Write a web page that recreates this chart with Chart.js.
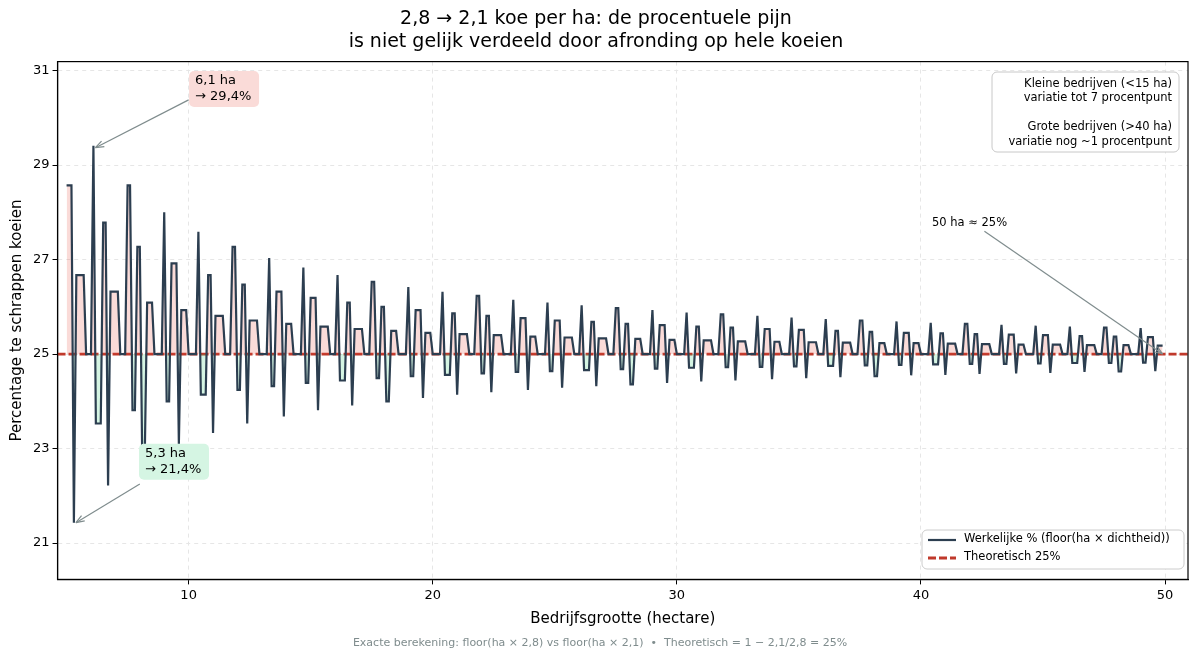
<!DOCTYPE html>
<html>
<head>
<meta charset="utf-8">
<script src="https://cdn.jsdelivr.net/npm/chart.js@4.4.1/dist/chart.umd.min.js"></script>
<style>
  html, body { margin: 0; padding: 0; background: #fff; }
  #wrap { width: 1200px; height: 658px; }
</style>
</head>
<body>
<div id="wrap"><canvas id="c" width="1200" height="658"></canvas></div>
<script>
// Percentage te schrappen koeien, per 0,1 ha van 5,0 tot 49,9 ha
const pct5to10 = [28.57,28.57,28.57,21.43,26.67,26.67,26.67,26.67,25,25,25,29.41,23.53,23.53,23.53,27.78,27.78,22.22,26.32,26.32,26.32,26.32,25,25,25,28.57,28.57,23.81,23.81,27.27,27.27,22.73,22.73,26.09,26.09,26.09,25,25,25,25,28,24,24,26.92,26.92,26.92,23.08,25.93,25.93,25.93];
const pct10to20 = [25,25,25,25,27.59,24.14,24.14,24.14,26.67,26.67,23.33,25.81,25.81,25.81,25.81,25,25,25,27.27,27.27,24.24,24.24,26.47,26.47,23.53,25.71,25.71,25.71,25.71,25,25,25,25,27.03,24.32,24.32,26.32,26.32,26.32,23.68,25.64,25.64,25.64,25,25,25,25,26.83,24.39,24.39,26.19,26.19,26.19,23.81,25.58,25.58,25.58,25.58,25,25,25,26.67,24.44,24.44,24.44,26.09,26.09,23.91,25.53,25.53,25.53,25.53,25,25,25,26.53,26.53,24.49,24.49,26,26,24,24,25.49,25.49,25.49,25,25,25,25,26.42,24.53,24.53,25.93,25.93,25.93,24.07,25.45,25.45,25.45];
const pct20to30 = [25,25,25,25,26.32,24.56,24.56,24.56,25.86,25.86,24.14,25.42,25.42,25.42,25.42,25,25,25,26.23,26.23,24.59,24.59,25.81,25.81,24.19,25.40,25.40,25.40,25.40,25,25,25,25,26.15,24.62,24.62,25.76,25.76,25.76,24.24,25.37,25.37,25.37,25,25,25,25,26.09,24.64,24.64,25.71,25.71,25.71,24.29,25.35,25.35,25.35,25.35,25,25,25,26.03,24.66,24.66,24.66,25.68,25.68,24.32,25.33,25.33,25.33,25.33,25,25,25,25.97,25.97,24.68,24.68,25.64,25.64,24.36,24.36,25.32,25.32,25.32,25,25,25,25,25.93,24.69,24.69,25.61,25.61,25.61,24.39,25.30,25.30,25.30];
const pct30to40 = [25,25,25,25,25.88,24.71,24.71,24.71,25.58,25.58,24.42,25.29,25.29,25.29,25.29,25,25,25,25.84,25.84,24.72,24.72,25.56,25.56,24.44,25.27,25.27,25.27,25.27,25,25,25,25,25.81,24.73,24.73,25.53,25.53,25.53,24.47,25.26,25.26,25.26,25,25,25,25,25.77,24.74,24.74,25.51,25.51,25.51,24.49,25.25,25.25,25.25,25.25,25,25,25,25.74,24.75,24.75,24.75,25.49,25.49,24.51,25.24,25.24,25.24,25.24,25,25,25,25.71,25.71,24.76,24.76,25.47,25.47,24.53,24.53,25.23,25.23,25.23,25,25,25,25,25.69,24.77,24.77,25.45,25.45,25.45,24.55,25.23,25.23,25.23];
const pct40to50 = [25,25,25,25,25.66,24.78,24.78,24.78,25.44,25.44,24.56,25.22,25.22,25.22,25.22,25,25,25,25.64,25.64,24.79,24.79,25.42,25.42,24.58,25.21,25.21,25.21,25.21,25,25,25,25,25.62,24.79,24.79,25.41,25.41,25.41,24.59,25.20,25.20,25.20,25,25,25,25,25.60,24.80,24.80,25.40,25.40,25.40,24.60,25.20,25.20,25.20,25.20,25,25,25,25.58,24.81,24.81,24.81,25.38,25.38,24.62,25.19,25.19,25.19,25.19,25,25,25,25.56,25.56,24.81,24.81,25.37,25.37,24.63,24.63,25.19,25.19,25.19,25,25,25,25,25.55,24.82,24.82,25.36,25.36,25.36,24.64,25.18,25.18,25.18];
const theoretical = 25;
const xTicks = [10, 20, 30, 40, 50];
const yTicks = [21, 23, 25, 27, 29, 31];

const pct = [...pct5to10, ...pct10to20, ...pct20to30, ...pct30to40, ...pct40to50];
const points = pct.map((v, i) => ({ x: 5 + i / 10, y: v }));

const X_MIN = 4.63, X_MAX = 50.94, Y_MIN = 20.23, Y_MAX = 31.19;
const FONT = '"DejaVu Sans", sans-serif';

// pijl + tekst + legenda zelf tekenen
const extras = {
  id: 'extras',
  afterDraw(chart) {
    const { ctx, scales: { x, y }, chartArea: ca } = chart;
    const px = v => x.getPixelForValue(v), py = v => y.getPixelForValue(v);

    const arrow = (x1, y1, x2, y2) => {
      ctx.save();
      ctx.strokeStyle = '#7f8c8d'; ctx.fillStyle = '#7f8c8d'; ctx.lineWidth = 1.2;
      ctx.beginPath(); ctx.moveTo(x1, y1); ctx.lineTo(x2, y2); ctx.stroke();
      const a = Math.atan2(y2 - y1, x2 - x1), L = 9;
      ctx.beginPath();
      ctx.moveTo(x2, y2);
      ctx.lineTo(x2 - L * Math.cos(a - 0.35), y2 - L * Math.sin(a - 0.35));
      ctx.moveTo(x2, y2);
      ctx.lineTo(x2 - L * Math.cos(a + 0.35), y2 - L * Math.sin(a + 0.35));
      ctx.stroke();
      ctx.restore();
    };
    const box = (bx, by, w, h, fill, stroke) => {
      ctx.save();
      ctx.beginPath(); ctx.roundRect(bx, by, w, h, 5);
      ctx.fillStyle = fill; ctx.fill();
      if (stroke) { ctx.strokeStyle = stroke; ctx.lineWidth = 1; ctx.stroke(); }
      ctx.restore();
    };
    const lines = (arr, tx, ty, lh, align, size, color) => {
      ctx.save();
      ctx.font = `${size}px ${FONT}`; ctx.fillStyle = color || '#000';
      ctx.textAlign = align; ctx.textBaseline = 'top';
      arr.forEach((t, i) => ctx.fillText(t, tx, ty + i * lh));
      ctx.restore();
    };

    // 6,1 ha
    arrow(px(10), py(30.38), px(6.1) + 2, py(29.41) + 2);
    box(px(10.1) - 2, py(30.99), 70, 36, '#fadbd8');
    lines(['6,1 ha', '→ 29,4%'], px(10.1) + 4, py(30.99) + 3, 16, 'left', 13);

    // 5,3 ha
    arrow(px(8.0), py(22.25), px(5.3) + 2, py(21.43));
    box(px(8.05) - 2, py(23.1), 70, 36, '#d5f5e3');
    lines(['5,3 ha', '→ 21,4%'], px(8.05) + 4, py(23.1) + 3, 16, 'left', 13);

    // 50 ha
    lines(['50 ha ≈ 25%'], px(40.45), py(27.9), 15, 'left', 11.5);
    arrow(px(42.6), py(27.6), px(49.9), py(25.0));

    // tekstvak rechtsboven
    box(992, 72, 187, 80, '#fff', '#c8c8c8');
    lines(['Kleine bedrijven (<15 ha)', 'variatie tot 7 procentpunt', '', 'Grote bedrijven (>40 ha)', 'variatie nog ~1 procentpunt'],
      1172, 78, 14.5, 'right', 11.5);

    // legenda
    box(922, 530, 262, 39, '#fff', '#cccccc');
    ctx.save();
    ctx.lineWidth = 2.2; ctx.strokeStyle = '#2c3e50';
    ctx.beginPath(); ctx.moveTo(928, 540); ctx.lineTo(956, 540); ctx.stroke();
    ctx.lineWidth = 2.8; ctx.strokeStyle = '#c0392b'; ctx.setLineDash([8, 3]);
    ctx.beginPath(); ctx.moveTo(928, 558); ctx.lineTo(956, 558); ctx.stroke();
    ctx.restore();
    lines(['Werkelijke % (floor(ha × dichtheid))', 'Theoretisch 25%'], 964, 533, 18, 'left', 11.5);

    // voetnoot
    ctx.save();
    ctx.font = `11px ${FONT}`; ctx.fillStyle = '#7f8c8d'; ctx.textAlign = 'center';
    ctx.fillText('Exacte berekening: floor(ha × 2,8) vs floor(ha × 2,1)  •  Theoretisch = 1 − 2,1/2,8 = 25%', 600, 646);
    ctx.restore();
  }
};

new Chart(document.getElementById('c'), {
  type: 'line',
  data: {
    datasets: [{
      label: 'Werkelijke % (floor(ha × dichtheid))',
      data: points,
      borderColor: '#2c3e50',
      borderWidth: 2.2,
      pointRadius: 0,
      tension: 0,
      fill: { target: { value: theoretical }, above: 'rgba(231,76,60,0.2)', below: 'rgba(46,204,113,0.2)' }
    }, {
      label: 'Theoretisch 25%',
      data: [{ x: X_MIN, y: theoretical }, { x: X_MAX, y: theoretical }],
      borderColor: '#c0392b',
      borderWidth: 2.8,
      borderDash: [8, 3],
      pointRadius: 0,
      fill: false
    }]
  },
  options: {
    responsive: false,
    animation: false,
    layout: { padding: { left: 4, right: 12, top: 0, bottom: 26 } },
    plugins: {
      legend: { display: false },
      tooltip: { enabled: false },
      title: {
        display: true,
        text: ['2,8 → 2,1 koe per ha: de procentuele pijn', 'is niet gelijk verdeeld door afronding op hele koeien'],
        color: '#000',
        font: { family: FONT, size: 19, weight: 'normal' },
        padding: { top: 8, bottom: 8 },
        lineHeight: 1.25
      }
    },
    scales: {
      x: {
        type: 'linear', min: X_MIN, max: X_MAX,
        afterBuildTicks: ax => { ax.ticks = xTicks.map(v => ({ value: v })); },
        ticks: { color: '#000', font: { family: FONT, size: 13 }, callback: v => v },
        grid: { color: '#e6e6e6', borderDash: [4, 4], tickColor: '#000', tickLength: 5 },
        border: { color: '#000', width: 1.2, dash: [4, 4] },
        title: { display: true, text: 'Bedrijfsgrootte (hectare)', color: '#000', font: { family: FONT, size: 15 }, padding: { top: 4 } }
      },
      y: {
        min: Y_MIN, max: Y_MAX,
        afterBuildTicks: ax => { ax.ticks = yTicks.map(v => ({ value: v })); },
        ticks: { color: '#000', font: { family: FONT, size: 13 }, callback: v => v },
        grid: { color: '#e6e6e6', tickColor: '#000', tickLength: 5 },
        border: { color: '#000', width: 1.2, dash: [4, 4] },
        title: { display: true, text: 'Percentage te schrappen koeien', color: '#000', font: { family: FONT, size: 15 } }
      }
    }
  },
  plugins: [extras, {
    id: 'frame',
    afterDraw(chart) {
      const { ctx, chartArea: a } = chart;
      ctx.save(); ctx.strokeStyle = '#000'; ctx.lineWidth = 1.2;
      ctx.strokeRect(a.left, a.top, a.right - a.left, a.bottom - a.top);
      ctx.restore();
    }
  }]
});
</script>
</body>
</html>
